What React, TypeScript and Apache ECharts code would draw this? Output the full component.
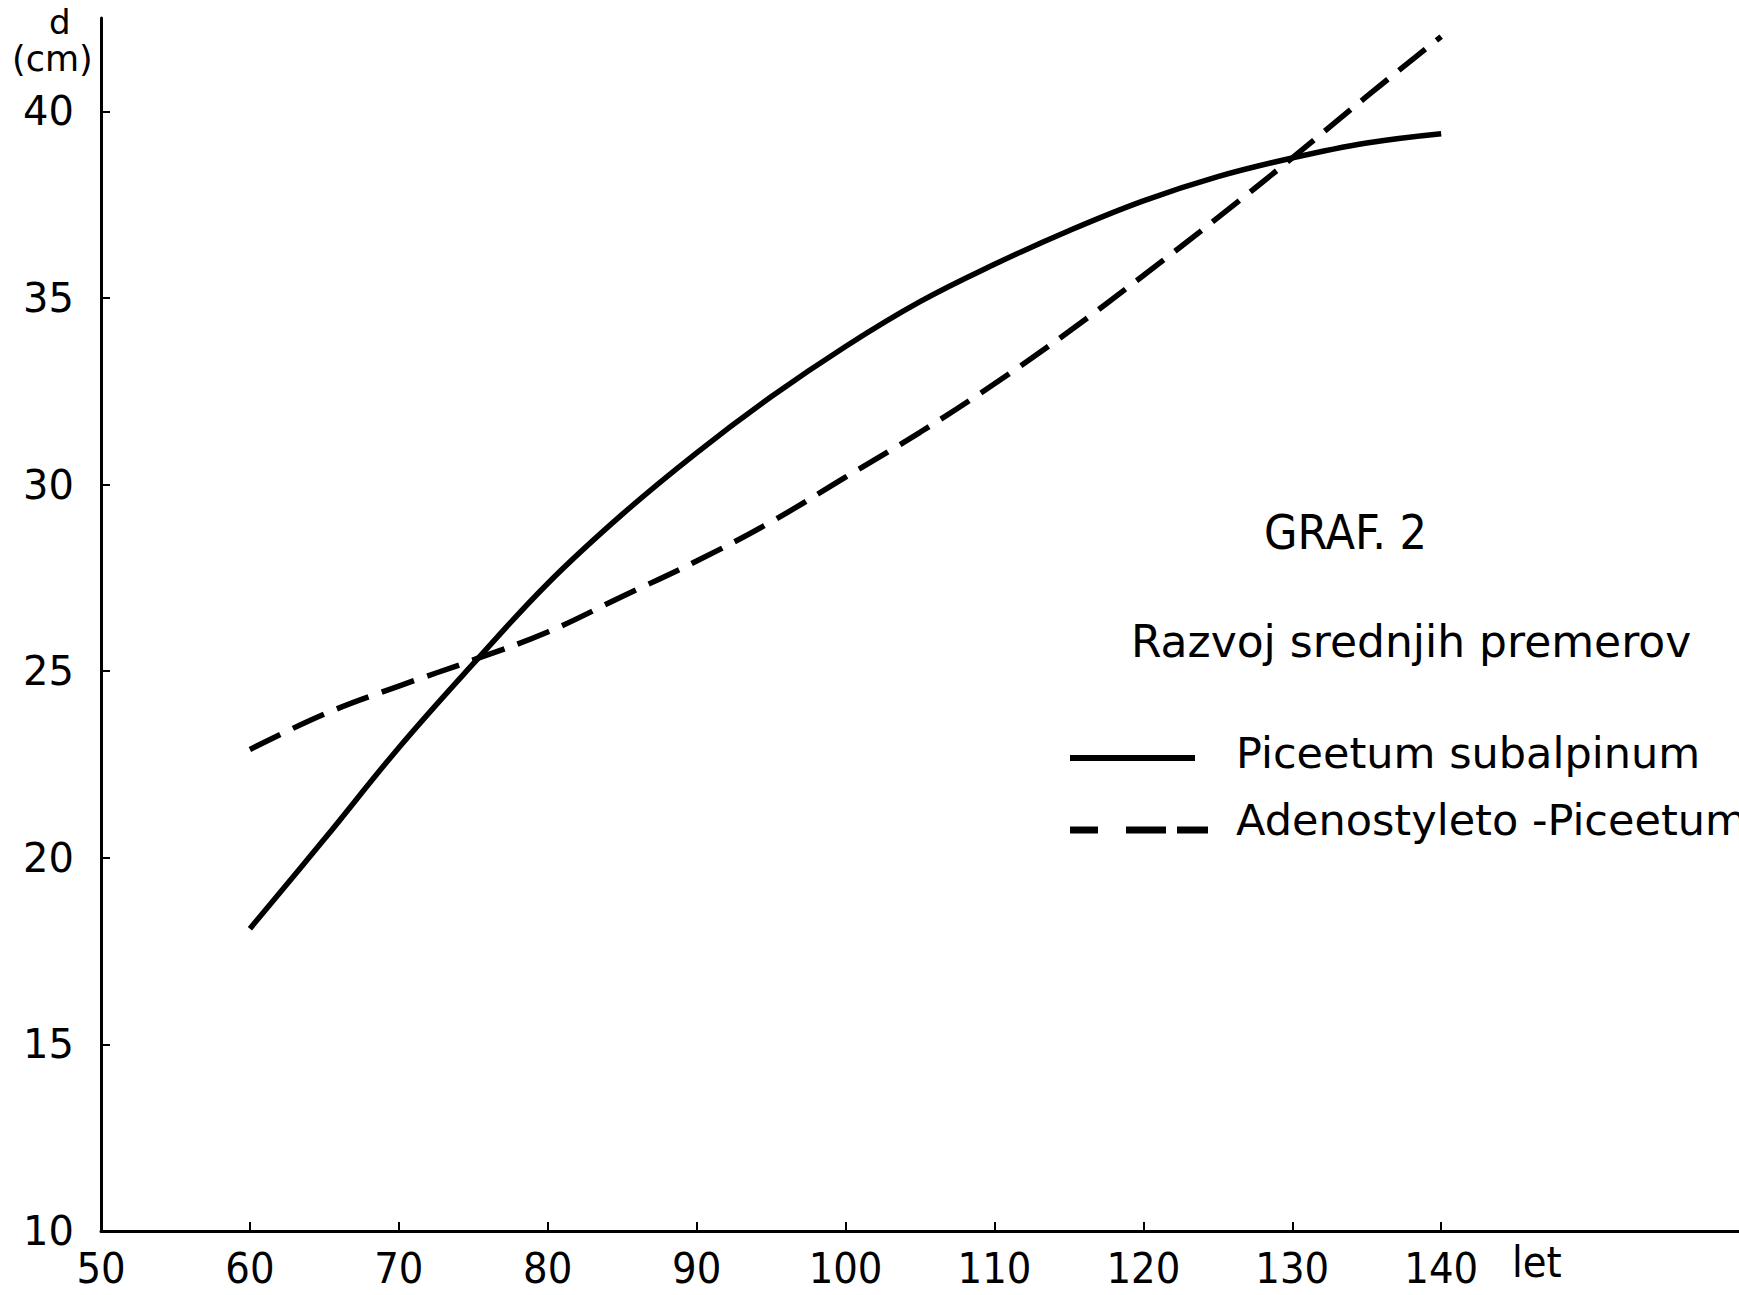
import React, { useEffect, useRef } from "react";
import * as echarts from "echarts";

const ages = [60, 65, 70, 75, 80, 85, 90, 95, 100, 105, 110, 115, 120, 125, 130, 135, 140];
const piceetumSubalpinum = [18.1, 20.5, 22.95, 25.2, 27.35, 29.2, 30.85, 32.35, 33.7, 34.9, 35.9, 36.8, 37.6, 38.25, 38.75, 39.15, 39.4];
const adenostyletoPiceetum = [22.9, 23.85, 24.6, 25.3, 26.05, 27.0, 27.95, 29.0, 30.2, 31.4, 32.7, 34.1, 35.6, 37.15, 38.75, 40.4, 42.0];
const yTickValues = [10, 15, 20, 25, 30, 35, 40];
const xLabelValues = [50, 60, 70, 80, 90, 100, 110, 120, 130, 140];
const xTickValues = [60, 70, 80, 90, 100, 110, 120, 130, 140];

const seriesNames = ["Piceetum subalpinum", "Adenostyleto -Piceetum"];
const titleText = "GRAF. 2";
const subtitleText = "Razvoj srednjih premerov";

export default function App() {
  const ref = useRef<HTMLDivElement>(null);
  useEffect(() => {
    const chart = echarts.init(ref.current!, null, { renderer: "svg" });
    const pairs = (ys: number[]) => ages.map((a, i) => [a, ys[i]]);
    const legendFont = { fontSize: 43, fontFamily: "DejaVu Sans", fill: "#000" };
    chart.setOption({
      animation: false,
      backgroundColor: "#ffffff",
      grid: { left: 101, right: 0, top: 18, bottom: 64, containLabel: false },
      xAxis: {
        type: "value",
        min: 50,
        max: 160,
        interval: 10,
        axisLine: { show: true, lineStyle: { color: "#000", width: 3 } },
        axisTick: { show: true, inside: true, length: 9, lineStyle: { color: "#000", width: 2 }, customValues: xTickValues },
        axisLabel: {
          customValues: xLabelValues,
          color: "#000",
          fontSize: 43,
          fontFamily: "DejaVu Sans Condensed",
          margin: 15,
        },
        splitLine: { show: false },
      },
      yAxis: {
        type: "value",
        min: 10,
        max: 42.5,
        interval: 5,
        axisLine: { show: true, lineStyle: { color: "#000", width: 3 } },
        axisTick: { show: true, inside: true, length: 9, lineStyle: { color: "#000", width: 2 }, customValues: yTickValues },
        axisLabel: {
          customValues: yTickValues,
          color: "#000",
          fontSize: 40,
          fontFamily: "DejaVu Sans",
          margin: 27,
        },
        splitLine: { show: false },
      },
      graphic: [
        { type: "text", left: 49, top: 5, style: { text: "d", fontSize: 34, fontFamily: "DejaVu Sans", fill: "#000" } },
        { type: "text", left: 12, top: 41, style: { text: "(cm)", fontSize: 35, fontFamily: "DejaVu Sans", fill: "#000" } },
        { type: "text", left: 1512, top: 1240, style: { text: "let", fontSize: 43, fontFamily: "DejaVu Sans Condensed", fill: "#000" } },
        { type: "text", left: 1264, top: 508, style: { text: titleText, fontSize: 48, fontFamily: "DejaVu Sans Condensed", fill: "#000" } },
        { type: "text", left: 1131, top: 619, style: { text: subtitleText, fontSize: 44, fontFamily: "DejaVu Sans", fill: "#000" } },
        { type: "line", shape: { x1: 1070, y1: 758, x2: 1195, y2: 758 }, style: { stroke: "#000", lineWidth: 6 } },
        { type: "text", left: 1236, top: 731, style: { text: seriesNames[0], ...legendFont } },
        { type: "line", shape: { x1: 1070, y1: 830, x2: 1098, y2: 830 }, style: { stroke: "#000", lineWidth: 7 } },
        { type: "line", shape: { x1: 1126, y1: 830, x2: 1166, y2: 830 }, style: { stroke: "#000", lineWidth: 7 } },
        { type: "line", shape: { x1: 1177, y1: 830, x2: 1208, y2: 830 }, style: { stroke: "#000", lineWidth: 7 } },
        { type: "text", left: 1236, top: 798, style: { text: seriesNames[1], ...legendFont } },
      ],
      series: [
        {
          name: seriesNames[0],
          type: "line",
          data: pairs(piceetumSubalpinum),
          smooth: 0.4,
          symbol: "none",
          lineStyle: { color: "#000", width: 5.5 },
          itemStyle: { color: "#000" },
        },
        {
          name: seriesNames[1],
          type: "line",
          data: pairs(adenostyletoPiceetum),
          smooth: 0.4,
          symbol: "none",
          lineStyle: { color: "#000", width: 5.5, type: [34, 14] },
          itemStyle: { color: "#000" },
        },
      ],
    });
    return () => chart.dispose();
  }, []);
  return (
    <div
      ref={ref}
      style={{ position: "absolute", left: 0, top: 0, width: 1739, height: 1295, background: "#fff" }}
    />
  );
}
